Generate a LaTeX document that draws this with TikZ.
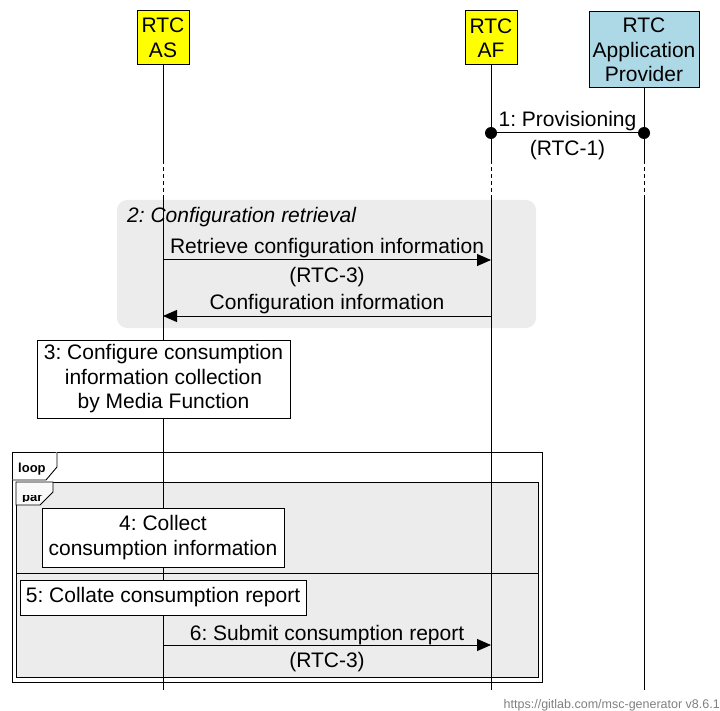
\documentclass[tikz,border=0pt]{standalone}
\usepackage{fontspec}
\setmainfont{Liberation Sans}
\usetikzlibrary{arrows.meta}
\frenchspacing
\newcommand{\mscfont}{\fontsize{21}{24.5}\selectfont}
\newcommand{\tagfont}{\bfseries\fontsize{13}{15}\selectfont}
\definecolor{entyellow}{RGB}{255,255,0}
\definecolor{entblue}{RGB}{173,216,230}
\definecolor{boxgray}{RGB}{236,236,236}
\begin{document}
\begin{tikzpicture}[x=1pt,y=-1pt,
    ent/.style={draw,line width=1pt,align=center,font=\mscfont,inner sep=0pt},
    act/.style={draw,fill=white,line width=0.8pt,align=center,font=\mscfont,inner sep=0pt},
    lbl/.style={font=\mscfont,inner sep=0pt,text height=15pt,text depth=4.5pt},
    msg/.style={line width=1pt,-{Triangle[length=14pt,width=12pt]}},
    life/.style={line width=1pt},
    dot/.style={circle,fill,inner sep=0pt,minimum size=12pt}]
  \useasboundingbox (0,0) rectangle (720,711);
  \node[ent,fill=entyellow,minimum width=52pt,minimum height=54pt] (as) at (163,38) {RTC\\AS};
  \node[ent,fill=entyellow,minimum width=52pt,minimum height=54pt] (af) at (491,38) {RTC\\AF};
  \node[ent,fill=entblue,minimum width=110pt,minimum height=76pt] (pr) at (644,50) {RTC\\Application\\Provider};
  % backgrounds
  \fill[boxgray,rounded corners=10pt] (117,200) rectangle (536,328);
  \draw[line width=0.9pt,fill=white] (12,452) rectangle (542,682);
  \draw[line width=0.8pt,fill=boxgray] (16,482) rectangle (538,677);
  \draw[line width=0.8pt] (16,573) -- (538,573);
  % lifelines
  \foreach \n/\x in {as/163,af/491,pr/644}{
    \coordinate (\n1) at (\x,160);
    \coordinate (\n2) at (\x,198);
    \coordinate (\n3) at (\x,690);
    \draw[life] (\n.south) -- (\n1);
    \draw[life,dash pattern=on 4pt off 3pt] (\n1) -- (\n2);
    \draw[life] (\n2) -- (\n3);
  }
  \node[dot] (p1) at (491,133) {};
  \node[dot] (p2) at (644,133) {};
  \draw[line width=1pt] (p1) -- (p2) node[lbl,midway,above=1.5pt]{1: Provisioning}
    node[lbl,midway,below=7pt]{(RTC-1)};
  \node[lbl,anchor=base west,font=\mscfont\itshape] (s2) at (127,223) {2: Configuration retrieval};
  \coordinate (r1) at (163,260);
  \coordinate (r2) at (491,260);
  \draw[msg] (r1) -- (r2) node[lbl,midway,above=1pt]{Retrieve configuration information}
    node[lbl,midway,below=7pt]{(RTC-3)};
  \coordinate (c1) at (491,316);
  \coordinate (c2) at (163,316);
  \draw[msg] (c1) -- (c2) node[lbl,midway,above=1.5pt]{Configuration information};
  \node[act,minimum width=253pt,minimum height=78pt] (b3) at (163.5,379)
    {3: Configure consumption\\information collection\\by Media Function};
  % loop / par
  \draw[line width=0.9pt,fill=white] (12,480) -- (46,480) -- (57,467) -- (57,452);
  \node[anchor=base west,font=\tagfont,inner sep=0pt] (looptag) at (18,472) {loop};
  \draw[line width=0.8pt,fill=gray!5] (16,505) -- (40,505) -- (53,492) -- (53,482) -- (16,482) -- cycle;
  \begin{scope}
    \clip (16,495) rectangle (53,501.5);
    \node[anchor=base west,font=\tagfont,inner sep=0pt] (partag) at (22,501) {par};
  \end{scope}
  \node[act,minimum width=242pt,minimum height=59pt] (b4) at (163,537.5)
    {4: Collect\\consumption information};
  \node[act,minimum width=286pt,minimum height=35pt] (b5) at (163,597.5)
    {5: Collate consumption report};
  \coordinate (m1) at (163,645);
  \coordinate (m2) at (491,645);
  \draw[msg] (m1) -- (m2) node[lbl,midway,above=0pt]{6: Submit consumption report}
    node[lbl,midway,below=7pt]{(RTC-3)};
  \node[anchor=base east,inner sep=0pt,text=gray,font=\fontsize{12.5}{14}\selectfont] (footer)
    at (720,708) {https://gitlab.com/msc-generator v8.6.1};
\end{tikzpicture}
\end{document}
